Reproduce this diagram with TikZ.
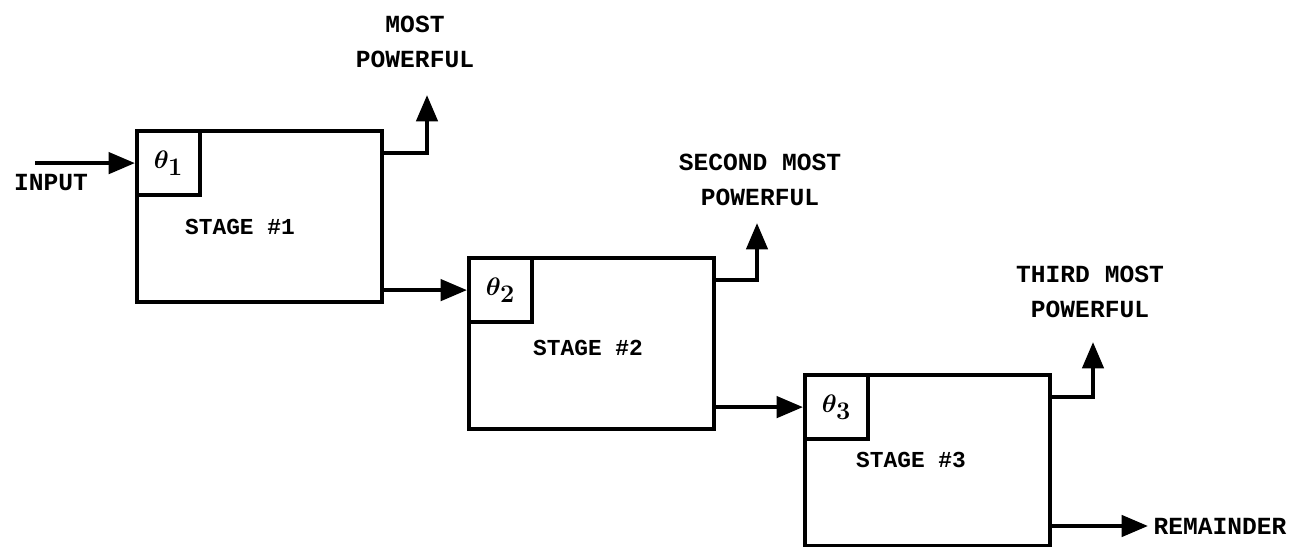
\documentclass[tikz,border=0pt]{standalone}
\usepackage{fontspec}
\newfontfamily\typew{Liberation Mono}
\usetikzlibrary{arrows.meta,positioning}

\begin{document}
\begin{tikzpicture}[x=0.02cm,y=-0.02cm,>={Triangle[length=15pt,width=12pt]},line width=2.4pt,font=\typew\bfseries\fontsize{14}{20}\selectfont]
\tikzstyle{stagebox}=[draw,anchor=north west,minimum width=4.9cm,minimum height=3.42cm]
\tikzstyle{thbox}=[draw,anchor=north west,minimum width=1.26cm,minimum height=1.28cm,inner sep=0pt,font=\boldmath\fontsize{15}{18}\selectfont]
\tikzstyle{stagelbl}=[font=\typew\bfseries\fontsize{13}{15}\selectfont]
\tikzstyle{lbl}=[align=center,inner sep=1pt]
\useasboundingbox (0,0) rectangle (1314,547);
% the three stages
\node[stagebox] (stage1) at (135,129) {};
\node[stagebox] (stage2) at (467,256) {};
\node[stagebox] (stage3) at (803,373) {};
\foreach \i in {1,2,3} \node[thbox] (th\i) at (stage\i.north west) {$\theta_{\textstyle\mathbf{\i}}$};
\node[stagelbl] (s1) at (240,227) {STAGE \#1};
\node[stagelbl] (s2) at (588,348) {STAGE \#2};
\node[stagelbl] (s3) at (911,460) {STAGE \#3};
% outputs
\node[lbl] (out1) at (415,42) {MOST\\POWERFUL};
\node[lbl] (out2) at (760,180) {SECOND MOST\\POWERFUL};
\node[lbl] (out3) at (1090,292) {THIRD MOST\\POWERFUL};
\node (input) at (51,183) {INPUT};
\node[anchor=west,inner sep=2pt] (rem) at (1148,526) {REMAINDER};
\coordinate (start) at (th1.west -| 35,0);
\coordinate (up1) at (427,95);
\coordinate (up2) at (757,223);
\coordinate (up3) at (1093,342);
\draw[->] (start) -- (th1.west);
\draw[->] (th2.west -| stage1.east) -- (th2.west);
\draw[->] (th3.west -| stage2.east) -- (th3.west);
\foreach \i in {1,2,3} \draw[->] ([yshift=-0.48cm]stage\i.north east) -| (up\i);
\draw[->] (stage3.east |- rem.west) -- (rem.west);
\end{tikzpicture}
\end{document}
